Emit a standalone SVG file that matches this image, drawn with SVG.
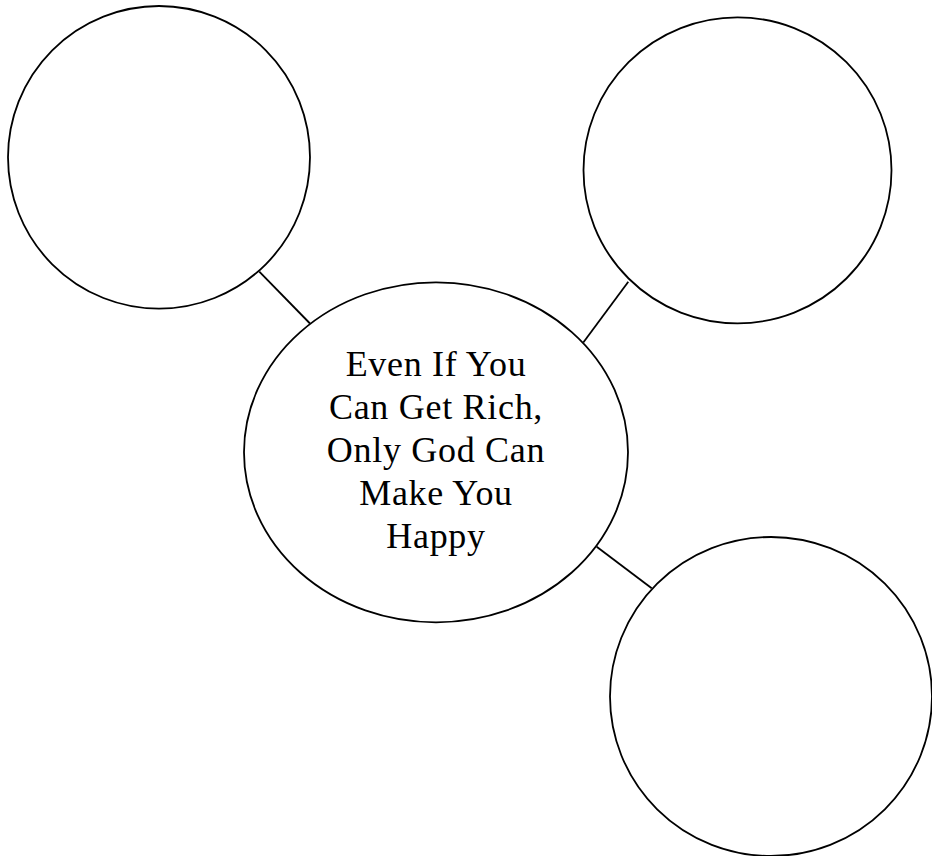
<svg xmlns="http://www.w3.org/2000/svg" width="932" height="856" viewBox="0 0 932 856">
<style>
.n{fill:#fff;stroke:#000;stroke-width:1.8}
.c{stroke:#000;stroke-width:1.8;fill:none}
.t{font-family:"Liberation Serif","Times New Roman",serif;font-size:36px;letter-spacing:0.7px;fill:#000;text-anchor:middle}
</style>
<rect width="932" height="856" fill="#fff"/>
<g id="connectors">
<line class="c" x1="259.3" y1="271.7" x2="310" y2="323.5"/>
<line class="c" x1="628.3" y1="281.7" x2="583.3" y2="342.5"/>
<line class="c" x1="596.7" y1="546.7" x2="651.7" y2="588.3"/>
</g>
<g id="node-topleft">
<ellipse class="n" cx="159" cy="157.3" rx="151" ry="151.3"/>
</g>
<g id="node-topright">
<ellipse class="n" cx="737.5" cy="170.3" rx="154" ry="153"/>
</g>
<g id="node-bottomright">
<ellipse class="n" cx="771" cy="696.5" rx="161" ry="159.5"/>
</g>
<g id="node-center">
<ellipse class="n" cx="436" cy="452.3" rx="192" ry="170"/>
<text class="t" x="436" y="376">Even If You</text>
<text class="t" x="436" y="419">Can Get Rich,</text>
<text class="t" x="436" y="462">Only God Can</text>
<text class="t" x="436" y="505">Make You</text>
<text class="t" x="436" y="548">Happy</text>
</g>
</svg>
